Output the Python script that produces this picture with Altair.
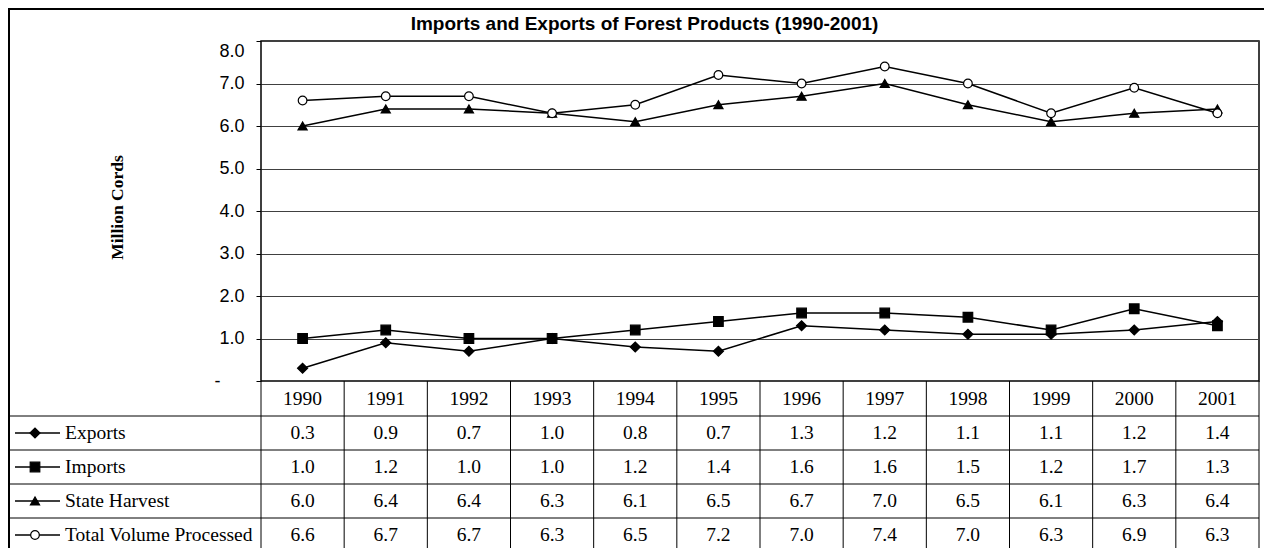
import altair as alt
import pandas as pd

years = ["1990", "1991", "1992", "1993", "1994", "1995", "1996", "1997", "1998", "1999", "2000", "2001"]
series = ["Exports", "Imports", "State Harvest", "Total Volume Processed"]
exports = [0.3, 0.9, 0.7, 1.0, 0.8, 0.7, 1.3, 1.2, 1.1, 1.1, 1.2, 1.4]
imports = [1.0, 1.2, 1.0, 1.0, 1.2, 1.4, 1.6, 1.6, 1.5, 1.2, 1.7, 1.3]
harvest = [6.0, 6.4, 6.4, 6.3, 6.1, 6.5, 6.7, 7.0, 6.5, 6.1, 6.3, 6.4]
total = [6.6, 6.7, 6.7, 6.3, 6.5, 7.2, 7.0, 7.4, 7.0, 6.3, 6.9, 6.3]
y_ticks = [0, 1, 2, 3, 4, 5, 6, 7, 8]
chart_title = ["Imports and Exports of Forest Products (1990-2001)"]
y_title = "Million Cords"

rows = []
for name, vals in zip(series, [exports, imports, harvest, total]):
    for yr, v in zip(years, vals):
        rows.append({"year": yr, "series": name, "value": v})
df = pd.DataFrame(rows)
ser_df = pd.DataFrame({"series": series})
yr_df = pd.DataFrame({"year": years})
title_df = pd.DataFrame({"title": chart_title})
one = pd.DataFrame({"k": [0]})

W, H = 998, 340
SERIF = "Liberation Serif"
SANS = "Liberation Sans"
TFS = 19.5

xscale = alt.Scale(type="band", paddingInner=0, paddingOuter=0)
X = alt.X("year:N", sort=years, scale=xscale, axis=None)
X0 = alt.X("year:N", sort=years, scale=xscale, axis=None, bandPosition=0)

row_scale = alt.Scale(type="band", domain=series, range=[375, 511], paddingInner=0, paddingOuter=0)
RY = alt.Y("series:N", sort=series, scale=row_scale, axis=None, bandPosition=0.5)
RY0 = alt.Y("series:N", sort=series, scale=row_scale, axis=None, bandPosition=0)

shape = alt.Shape("series:N", scale=alt.Scale(domain=series, range=["diamond", "square", "triangle-up", "circle"]), legend=None)
fill = alt.Fill("series:N", scale=alt.Scale(domain=series, range=["black", "black", "black", "white"]), legend=None)
size = alt.Size("series:N", scale=alt.Scale(domain=series, range=[100, 75, 135, 90]), legend=None)

yscale = alt.Scale(domain=[0, 8], nice=False, zero=True)
Yax = alt.Y(
    "value:Q",
    scale=yscale,
    axis=alt.Axis(
        values=y_ticks,
        labelExpr="datum.value == 0 ? '-' : format(datum.value, '.1f')",
        labelFont=SANS, labelFontSize=18, labelColor="black",
        labelPadding={"condition": {"test": "datum.value == 0", "value": 36}, "value": 12},
        labelOffset={"condition": {"test": "datum.value == 8", "value": 10}, "value": 0},
        tickSize=5, tickColor="black", domain=False,
        grid=True, gridColor="#404040", gridWidth=1,
        title=y_title, titleFont=SERIF, titleFontSize=17.5, titleFontWeight="bold",
        titleColor="black", titleAngle=270, titleX=-144, titleY=166,
        titleAlign="center", titleBaseline="middle",
    ),
)
Yplain = alt.Y("value:Q", scale=yscale, axis=None)

lines = alt.Chart(df).mark_line(color="black", strokeWidth=1.5).encode(
    x=X, y=Yax, detail="series:N"
)
points = alt.Chart(df).mark_point(filled=True, stroke="black", strokeWidth=1.2, opacity=1).encode(
    x=X, y=Yplain, shape=shape, fill=fill, size=size
)

title_mark = alt.Chart(title_df).mark_text(
    font=SANS, fontSize=19, fontWeight="bold", color="black", align="center", baseline="middle"
).encode(x=alt.value(383.5), y=alt.value(-17), text="title:N")

header = alt.Chart(yr_df).mark_text(font=SERIF, fontSize=TFS, color="black", baseline="middle").encode(
    x=X, y=alt.value(357.5), text="year:N"
)
cells = alt.Chart(df).mark_text(font=SERIF, fontSize=TFS, color="black", baseline="middle").encode(
    x=X, y=RY, text=alt.Text("value:Q", format=".1f")
)
labels = alt.Chart(ser_df).mark_text(font=SERIF, fontSize=TFS, color="black", align="left", baseline="middle").encode(
    x=alt.value(-196), y=RY, text="series:N"
)
leg_lines = alt.Chart(ser_df).mark_rule(color="black", strokeWidth=1.5).encode(
    x=alt.value(-246), x2=alt.value(-201), y=RY
)
leg_points = alt.Chart(ser_df).mark_point(filled=True, stroke="black", strokeWidth=1.2, opacity=1).encode(
    x=alt.value(-226), y=RY, shape=shape, fill=fill, size=size
)
hlines = alt.Chart(ser_df).mark_rule(color="black", strokeWidth=1).encode(
    y=RY0, x=alt.value(-254), x2=alt.value(W)
)
vlines = alt.Chart(yr_df).mark_rule(color="black", strokeWidth=1).encode(
    x=X0, y=alt.value(H), y2=alt.value(515)
)
vright = alt.Chart(one).mark_rule(color="black", strokeWidth=1).encode(
    x=alt.value(W), y=alt.value(H), y2=alt.value(515)
)
border_top = alt.Chart(one).mark_rule(color="black", strokeWidth=2).encode(
    x=alt.value(-253), x2=alt.value(1010), y=alt.value(-32)
)
border_left = alt.Chart(one).mark_rule(color="black", strokeWidth=2).encode(
    x=alt.value(-252), y=alt.value(-33), y2=alt.value(515)
)

chart = alt.layer(
    lines, points, title_mark, header, cells, labels, leg_lines, leg_points,
    hlines, vlines, vright, border_top, border_left,
).resolve_scale(y="independent").properties(
    width=W,
    height=H,
    padding={"left": 253, "top": 33, "right": 5, "bottom": 167},
    autosize=alt.AutoSizeParams(type="none"),
).configure_view(stroke="black", strokeWidth=1.5)

chart.save("out.html", embed_options={"renderer": "svg", "actions": False})
